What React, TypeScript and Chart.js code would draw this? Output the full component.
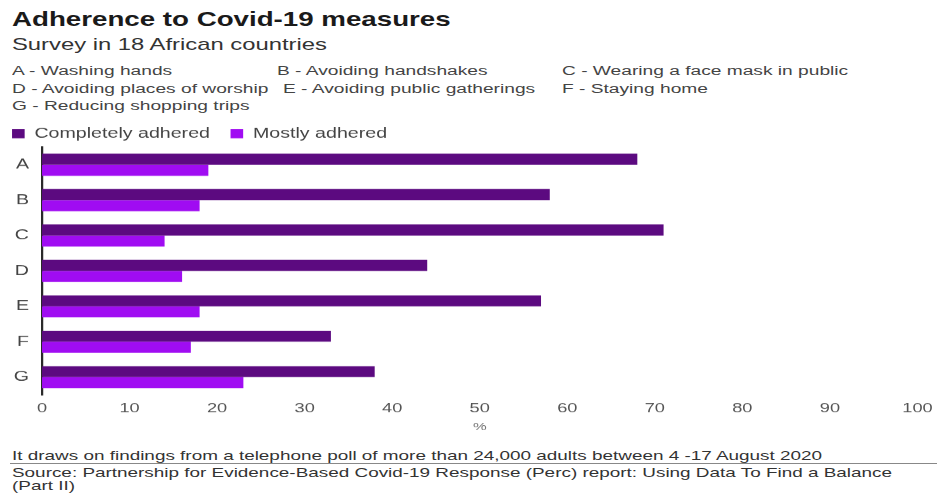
import React, { useEffect, useRef } from "react";
import { Chart, registerables } from "chart.js";

Chart.register(...registerables);

const title = "Adherence to Covid-19 measures";
const subtitle = "Survey in 18 African countries";
const keyItems = [
  "A - Washing hands",
  "B - Avoiding handshakes",
  "C - Wearing a face mask in public",
  "D - Avoiding places of worship",
  "E - Avoiding public gatherings",
  "F - Staying home",
  "G - Reducing shopping trips",
];
const categories = ["A", "B", "C", "D", "E", "F", "G"];
const completelyAdhered = [68, 58, 71, 44, 57, 33, 38];
const mostlyAdhered = [19, 18, 14, 16, 18, 17, 23];
const seriesNames = ["Completely adhered", "Mostly adhered"];
const xTicksMin = 0;
const xTicksMax = 100;
const xTicksStep = 10;
const xTitle = "%";
const note = "It draws on findings from a telephone poll of more than 24,000 adults between 4 -17 August 2020";
const source = "Source: Partnership for Evidence-Based Covid-19 Response (Perc) report: Using Data To Find a Balance (Part II)";

const DARK = "#5c0a80";
const LIGHT = "#a00cf2";
const FONT = "'Liberation Sans', Arial, Helvetica, sans-serif";
const SX = 1.4; // horizontal stretch of the original artwork
const CANVAS_W = 669;
const CANVAS_H = 326;

export default function App() {
  const ref = useRef<HTMLCanvasElement>(null);
  useEffect(() => {
    if (!ref.current) return;
    const chart = new Chart(ref.current, {
      type: "bar",
      data: {
        labels: categories,
        datasets: [
          { label: seriesNames[0], data: completelyAdhered, backgroundColor: DARK, barPercentage: 1, categoryPercentage: 0.623 },
          { label: seriesNames[1], data: mostlyAdhered, backgroundColor: LIGHT, barPercentage: 1, categoryPercentage: 0.623 },
        ],
      },
      options: {
        indexAxis: "y",
        animation: false,
        responsive: false,
        maintainAspectRatio: false,
        devicePixelRatio: 1.4007,
        layout: { padding: { left: -6.1, right: 14, top: 0, bottom: 4.8 } },
        plugins: {
          tooltip: { enabled: false },
          legend: {
            position: "top",
            align: "start",
            maxHeight: 35,
            labels: {
              boxWidth: 9,
              boxHeight: 9,
              padding: 14.7,
              color: "#444",
              font: { family: FONT, size: 14 },
            },
          },
        },
        scales: {
          x: {
            min: xTicksMin,
            max: xTicksMax,
            ticks: { stepSize: xTicksStep, color: "#555", font: { family: FONT, size: 13 }, padding: 6 },
            grid: { display: false, drawTicks: false },
            border: { display: false },
            title: { display: true, text: xTitle, color: "#777", font: { family: FONT, size: 11 }, padding: { top: 4, bottom: 0 } },
            afterFit: (scale: any) => {
              scale.height = 38.8;
              scale.paddingRight = 0;
            },
          },
          y: {
            ticks: { color: "#444", font: { family: FONT, size: 14 }, padding: 9.3 },
            grid: { display: false, drawTicks: false },
            border: { display: true, color: "#2a2a2a", width: 1.6 },
            afterFit: (scale: any) => {
              scale.width = 36.1;
            },
          },
        },
      },
    });
    return () => chart.destroy();
  }, []);

  const stretch = (left: number, top: number, size: number, extra: React.CSSProperties = {}): React.CSSProperties => ({
    position: "absolute",
    left,
    top,
    fontSize: size,
    lineHeight: `${size}px`,
    whiteSpace: "nowrap",
    transform: `scaleX(${SX})`,
    transformOrigin: "left top",
    ...extra,
  });
  const keyPos = [
    [12, 64.3],
    [277, 64.3],
    [562, 64.3],
    [12, 81.8],
    [283, 81.8],
    [562, 81.8],
    [12, 99.3],
  ];

  return (
    <div style={{ position: "fixed", left: 0, top: 0, width: 937, height: 496, background: "#fff", fontFamily: FONT, overflow: "hidden" }}>
      <div style={stretch(12, 10, 19.8, { fontWeight: "bold", color: "#1a1a1a" })}>{title}</div>
      <div style={stretch(12, 36.4, 17, { color: "#333" })}>{subtitle}</div>
      {keyItems.map((k, i) => (
        <div key={k} style={stretch(keyPos[i][0], keyPos[i][1], 13.7, { color: "#444" })}>{k}</div>
      ))}
      <canvas
        ref={ref}
        width={CANVAS_W}
        height={CANVAS_H}
        style={{ position: "absolute", left: 0, top: 112.3, width: 937, height: CANVAS_H }}
      />
      <div style={stretch(12, 449.4, 13.5, { color: "#333" })}>{note}</div>
      <div style={{ position: "absolute", left: 10, right: 0, top: 463, borderTop: "1px solid #888" }} />
      <div style={stretch(12, 466.2, 13.5, { color: "#333", whiteSpace: "normal", width: 650, lineHeight: "13px" })}>{source}</div>
    </div>
  );
}
